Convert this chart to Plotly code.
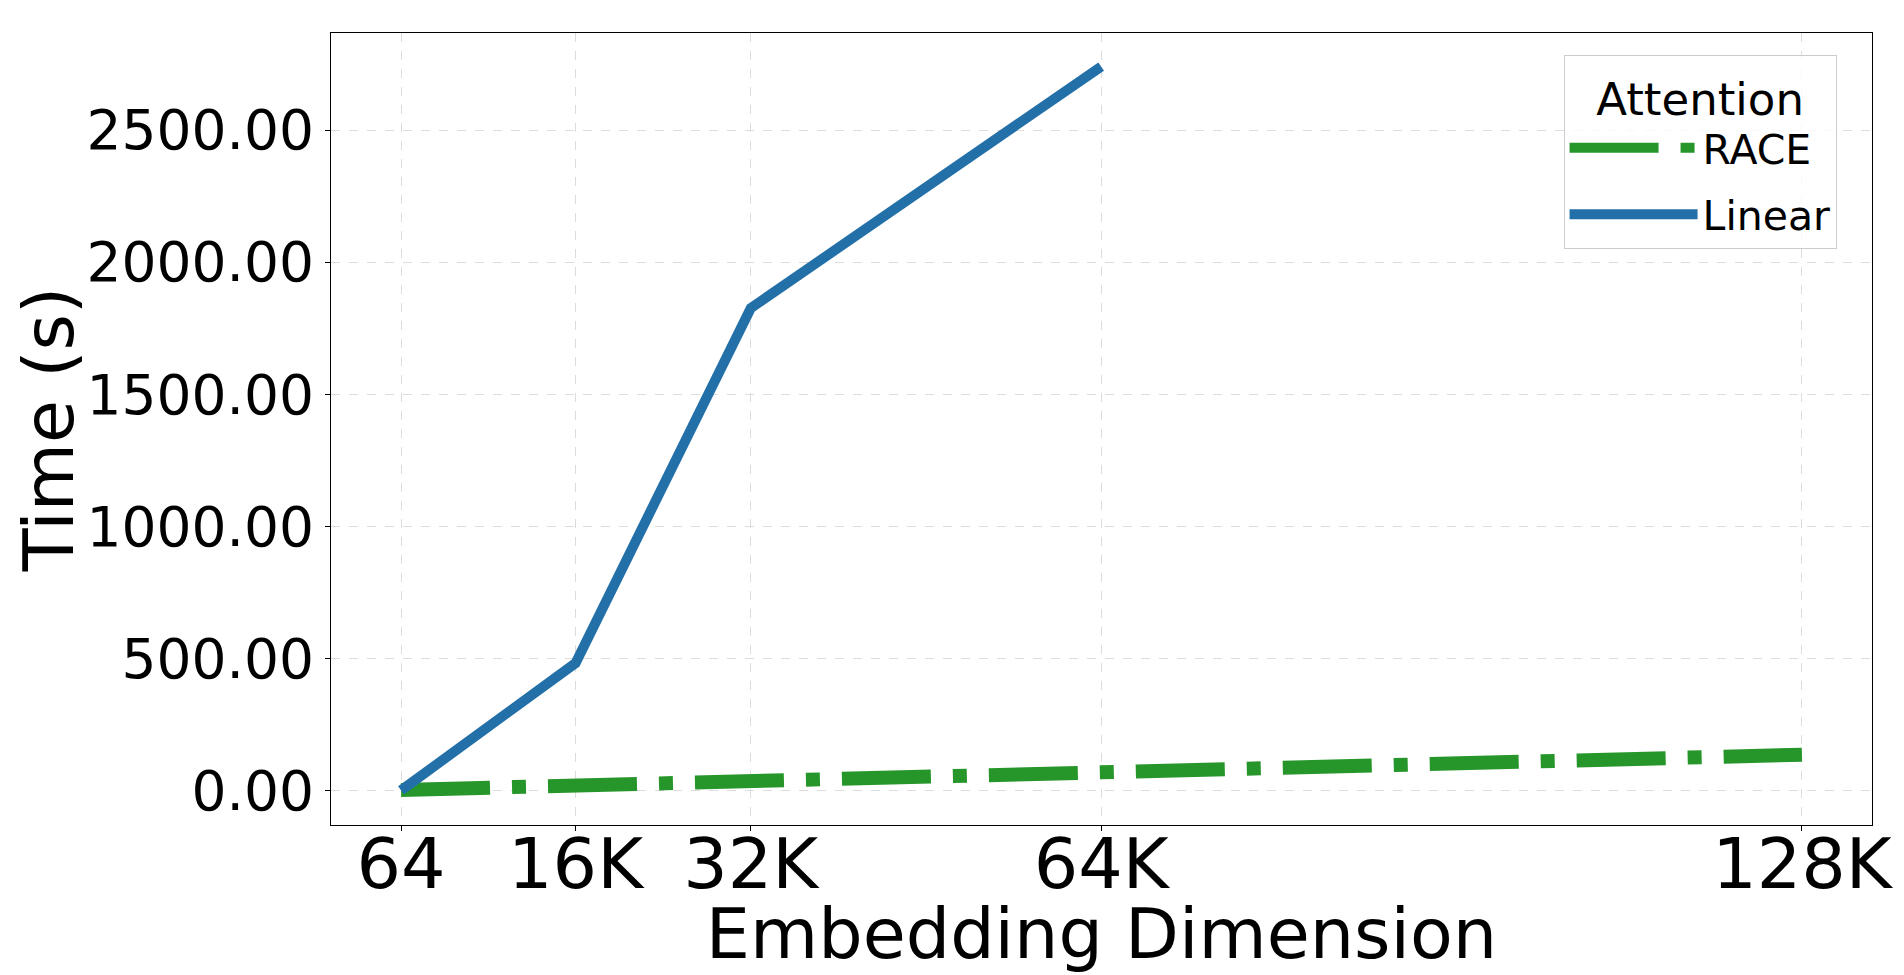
import plotly.graph_objects as go

# Data
dims = [64, 16384, 32768, 65536, 131072]
tick_labels = ["64", "16K", "32K", "64K", "128K"]
race_dims = [64, 16384, 32768, 65536, 131072]
race_time = [2, 18, 37, 75, 135]
linear_dims = [64, 16384, 32768, 65536]
linear_time = [0, 482, 1826, 2741]
y_ticks = [0, 500, 1000, 1500, 2000, 2500]

BLUE = "#2370a9"
GREEN = "#26962a"
FONT = "DejaVu Sans"

fig = go.Figure()
fig.add_trace(go.Scatter(
    x=race_dims, y=race_time, name="RACE", mode="lines", legendgroup="race",
    line=dict(color=GREEN, width=14, dash="89px,22px,14px,22px"),
))
fig.add_trace(go.Scatter(
    x=linear_dims, y=linear_time, name="Linear", mode="lines", legendgroup="linear",
    line=dict(color=BLUE, width=10),
))

span = dims[-1] - dims[0]
fig.update_layout(
    width=1896, height=967,
    margin=dict(l=323, r=32, t=25, b=150),
    paper_bgcolor="white", plot_bgcolor="white",
    font=dict(family=FONT, color="black"),
    legend=dict(
        title=dict(text="Attention", font=dict(size=45), side="top center"),
        font=dict(size=41),
        x=0.977, y=0.972, xanchor="right", yanchor="top",
        bgcolor="rgba(255,255,255,0.8)", bordercolor="#cccccc", borderwidth=1,
        itemwidth=128, tracegroupgap=10,
    ),
    showlegend=True,
)
fig.update_xaxes(
    range=[dims[0] - 0.05 * span, dims[-1] + 0.05 * span],
    tickmode="array", tickvals=dims, ticktext=tick_labels,
    tickfont=dict(size=70, family=FONT),
    ticklabelstandoff=-27,
    title=dict(text="Embedding Dimension", font=dict(size=70, family=FONT), standoff=0),
    showline=True, linecolor="black", linewidth=1.2, mirror=True,
    ticks="outside", ticklen=5, tickwidth=1.2, tickcolor="black",
    showgrid=True, gridcolor="#dcdcdc", gridwidth=1, griddash="dash",
    zeroline=False, automargin=False,
)
fig.update_yaxes(
    range=[-131, 2868],
    tickmode="array", tickvals=y_ticks, tickformat=".2f",
    tickfont=dict(size=55, family=FONT),
    title=dict(text="Time (s)", font=dict(size=70, family=FONT), standoff=4),
    showline=True, linecolor="black", linewidth=1.2, mirror=True,
    ticks="outside", ticklen=5, tickwidth=1.2, tickcolor="black",
    showgrid=True, gridcolor="#dcdcdc", gridwidth=1, griddash="dash",
    zeroline=False, automargin=False,
)

fig.write_html("out.html")
